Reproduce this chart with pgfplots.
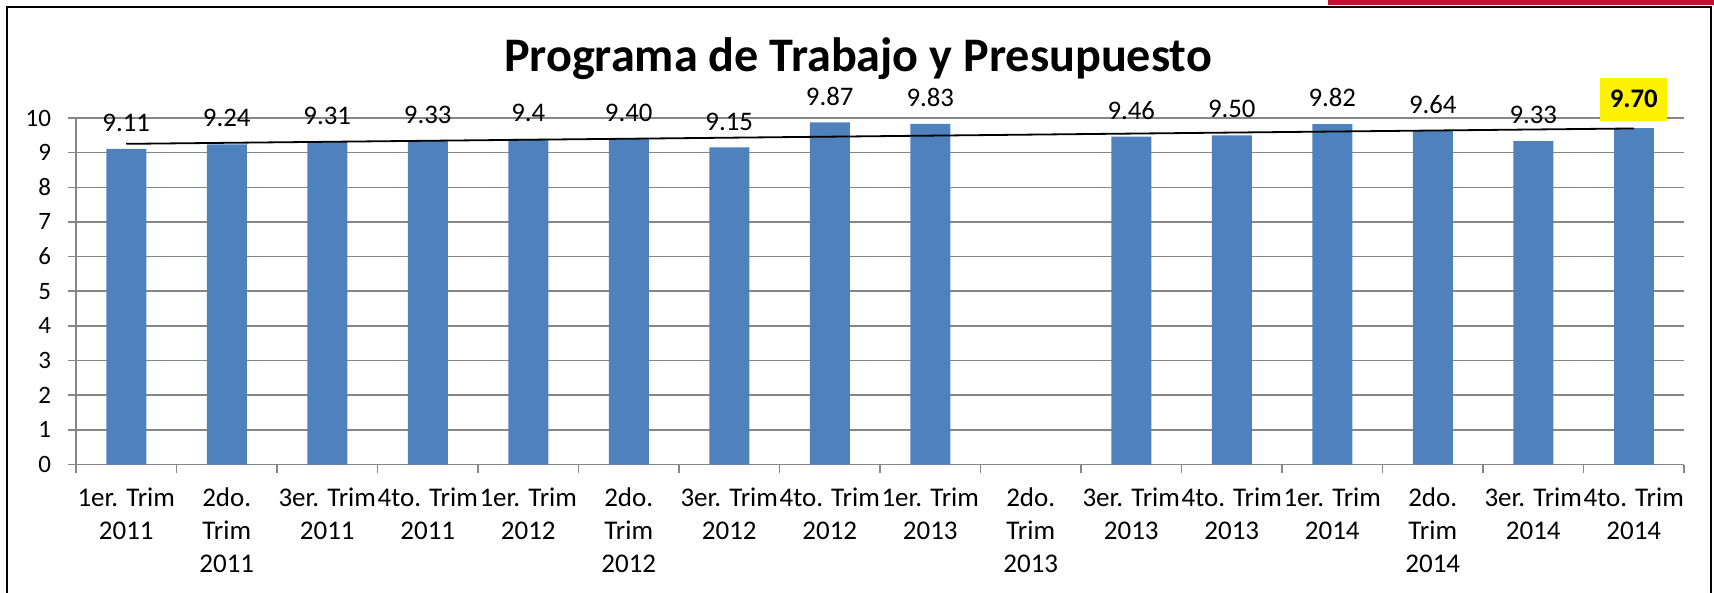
\documentclass[border=0pt]{standalone}
\usepackage{fontspec}
\setmainfont{Carlito}
\usepackage{pgfplots}
\pgfplotsset{compat=1.18}
\usepackage{pgfplotstable}
\definecolor{barblue}{HTML}{4F81BD}
\definecolor{gridgray}{HTML}{868686}
\definecolor{redbar}{HTML}{C0122F}

\pgfplotstableread{
x y lab
0 9.11 9.11
1 9.24 9.24
2 9.31 9.31
3 9.33 9.33
4 9.40 9.4
5 9.40 9.40
6 9.15 9.15
7 9.87 9.87
8 9.83 9.83
10 9.46 9.46
11 9.50 9.50
12 9.82 9.82
13 9.64 9.64
14 9.33 9.33
}\datatable
\pgfplotstableread{
x y lab
15 9.70 9.70
}\lasttable
\pgfplotstableread{
x y
0 9.254
15 9.698
}\trendtable

\begin{document}
\begin{tikzpicture}[x=1pt,y=1pt]
\path[use as bounding box] (0,0) rectangle (857,296.5);
\fill[redbar] (664,294) rectangle (857,296.5);
\draw[line width=1.2pt] (3.5,-5) -- (3.5,293) -- (855.5,293) -- (855.5,-5);
\node[anchor=base, font=\bfseries\fontsize{24.1}{29}\selectfont] at (429,260.5) {Programa de Trabajo y Presupuesto};
\begin{axis}[
  at={(38pt,64.2pt)}, anchor=south west,
  scale only axis, width=804pt, height=173.3pt,
  xmin=-0.5, xmax=15.5, ymin=0, ymax=10,
  axis x line*=bottom, axis y line*=left,
  axis line style={gridgray, line width=0.8pt, -},
  ytick={0,1,...,10},
  xtick={0,1,...,15},
  xticklabels={{1er. Trim\\2011},{2do.\\Trim\\2011},{3er. Trim\\2011},{4to. Trim\\2011},
    {1er. Trim\\2012},{2do.\\Trim\\2012},{3er. Trim\\2012},{4to. Trim\\2012},
    {1er. Trim\\2013},{2do.\\Trim\\2013},{3er. Trim\\2013},{4to. Trim\\2013},
    {1er. Trim\\2014},{2do.\\Trim\\2014},{3er. Trim\\2014},{4to. Trim\\2014}},
  minor xtick={-0.5,0.5,...,15.5},
  major x tick style={draw=none},
  minor x tick style={gridgray, line width=0.8pt},
  y tick style={gridgray, line width=0.8pt},
  tick align=outside,
  major tick length=4pt, minor tick length=4pt,
  ymajorgrids, grid style={gridgray, line width=0.8pt},
  xticklabel style={align=center, yshift=-4pt, font=\fontsize{13.5}{16.4}\selectfont},
  yticklabel style={xshift=-5pt, font=\fontsize{12.5}{15}\selectfont},
  /pgf/number format/assume math mode=true,
  ybar, bar width=20pt, bar shift=0pt,
  clip=false,
]
\addplot[fill=barblue, draw=none,
  nodes near coords, point meta=explicit symbolic,
  nodes near coords style={anchor=base, yshift=8.7pt, font=\fontsize{13.4}{16.4}\selectfont, text=black}]
  table[x=x, y=y, meta=lab] {\datatable};
\addplot[fill=barblue, draw=none,
  nodes near coords, point meta=explicit symbolic,
  nodes near coords style={anchor=base, yshift=10.2pt, fill=yellow, inner xsep=4.7pt, inner ysep=6.2pt, font=\bfseries\fontsize{13.4}{16.4}\selectfont, text=black}]
  table[x=x, y=y, meta=lab] {\lasttable};
\addplot[sharp plot, black, line width=0.9pt, no marks] table[x=x, y=y] {\trendtable};
\end{axis}
\end{tikzpicture}
\end{document}
